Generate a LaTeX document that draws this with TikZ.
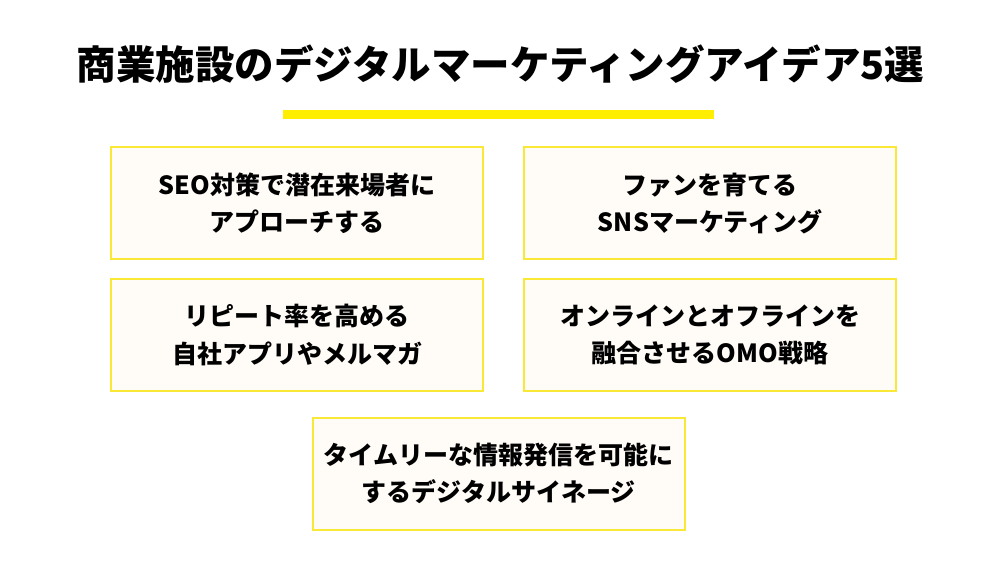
\documentclass[tikz,border=0pt]{standalone}
\usepackage{fontspec}
\setmainfont{Noto Sans CJK JP}
\definecolor{barYellow}{HTML}{FFEE00}
\definecolor{boxLine}{HTML}{F9E835}
\definecolor{boxFill}{HTML}{FFFCF8}
\tikzset{
	ideabox/.style={draw=boxLine, line width=2pt, fill=boxFill, minimum width=372pt, minimum height=112pt, align=center, font=\fontsize{25}{37.5}\selectfont\bfseries, text=black},
}
\begin{document}
\begin{tikzpicture}[x=1pt,y=1pt]
				\pgfmathsetmacro\W{1001}
				\pgfmathsetmacro\H{563}
				\pgfmathsetmacro\XL{297}
				\pgfmathsetmacro\XR{710}
				\pgfmathsetmacro\XM{498.5}
				\useasboundingbox (0,0) rectangle (\W,\H);
				\fill[white] (0,0) rectangle (\W,\H);

				\node (title) at (\W/2,\H-64) {\fontsize{39.5}{45}\selectfont\bfseries 商業施設のデジタルマーケティングアイデア5選};
				\coordinate (barL) at (283,\H-114.5);
				\coordinate (barR) at (714,\H-114.5);
				\draw[barYellow, line width=9pt] (barL) -- (barR);

				\node[ideabox] (seo) at (\XL,\H-203.5) {SEO対策で潜在来場者に\\アプローチする};
				\node[ideabox] (sns) at (\XR,\H-203.5) {ファンを育てる\\SNSマーケティング};
				\node[ideabox] (app) at (\XL,\H-335) {リピート率を高める\\自社アプリやメルマガ};
				\node[ideabox] (omo) at (\XR,\H-335) {オンラインとオフラインを\\融合させるOMO戦略};
				\node[ideabox] (sign) at (\XM,\H-473.5) {タイムリーな情報発信を可能に\\するデジタルサイネージ};
			\end{tikzpicture}
\end{document}
